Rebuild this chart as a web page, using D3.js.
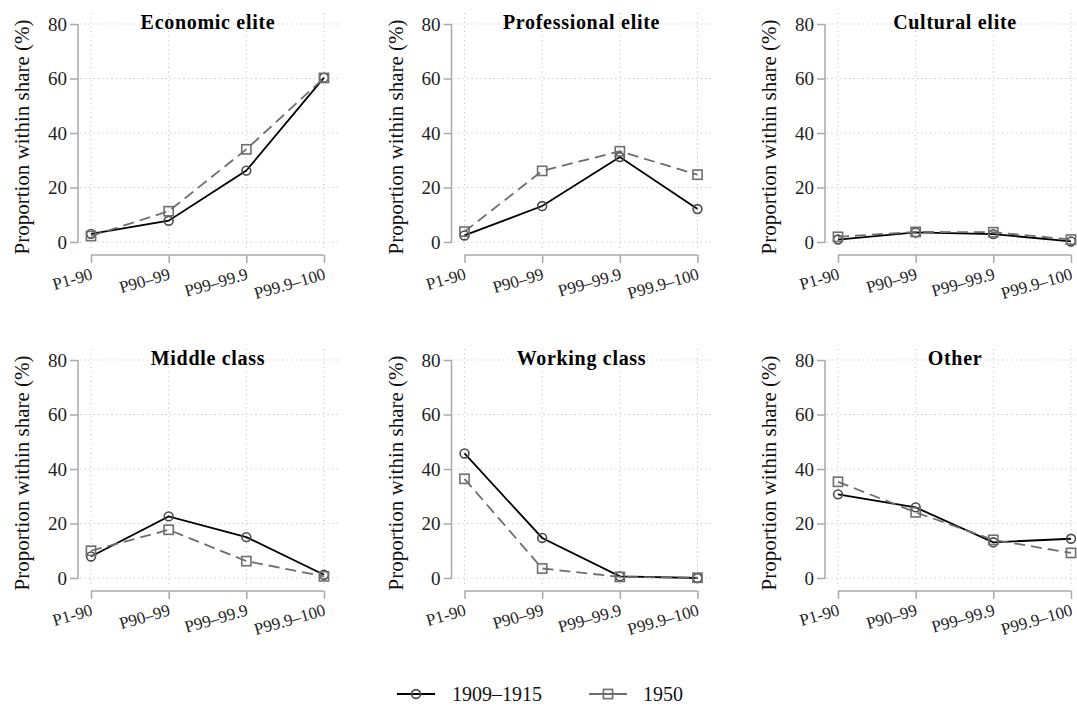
<!DOCTYPE html>
<html>
<head>
<meta charset="utf-8">
<script src="https://cdn.jsdelivr.net/npm/d3@7"></script>
<style>
  body { margin: 0; background: #fff; }
  svg { display: block; font-family: "Liberation Serif", "Times New Roman", serif; }
  svg text { font-family: "Liberation Serif", "Times New Roman", serif; }
</style>
</head>
<body>
<svg id="chart" width="1077" height="706"></svg>
<script>
const shares = ['P1-90', 'P90\u201399', 'P99\u201399.9', 'P99.9\u2013100'];
const yTicks = [0, 20, 40, 60, 80];
const panels = ['Economic elite', 'Professional elite', 'Cultural elite', 'Middle class', 'Working class', 'Other'];
const seriesNames = ['1909\u20131915', '1950'];

// values, one row per panel
const early = [
  [3.0, 7.8, 26.2, 60.3],
  [2.4, 13.2, 31.2, 12.1],
  [0.9, 3.5, 2.9, 0.2],
  [7.9, 22.6, 15.0, 1.2],
  [45.7, 14.7, 0.6, 0.0],
  [30.7, 25.9, 13.1, 14.4]
];
const late = [
  [2.2, 11.3, 34.0, 60.2],
  [3.8, 26.1, 33.3, 24.7],
  [1.9, 3.7, 3.6, 0.9],
  [10.0, 17.7, 6.2, 0.6],
  [36.4, 3.5, 0.4, 0.1],
  [35.3, 24.1, 14.0, 9.2]
];

const svg = d3.select('#chart');

const colW = 373.5, rowH = 336;
const axisX = 78, plotRight = 338, gridTop = 13;

const x = d3.scalePoint().domain(shares).range([91, 324]);
const y = d3.scaleLinear().domain([0, 80]).range([242, 24]);

const styles = [
  { line: '#000', marker: '#4a4a4a', dash: null, shape: 'circle' },
  { line: '#6e6e6e', marker: '#6e6e6e', dash: '11,6', shape: 'square' }
];

let drawMarker = (g, shape, color, cx, cy) => {
  if (shape === 'circle') {
    g.append('circle').attr('cx', cx).attr('cy', cy).attr('r', 4.4)
      .attr('fill', 'none').attr('stroke', color).attr('stroke-width', 1.6);
  } else {
    g.append('rect').attr('x', cx - 4.6).attr('y', cy - 4.6)
      .attr('width', 9.2).attr('height', 9.2)
      .attr('fill', 'none').attr('stroke', color).attr('stroke-width', 1.6);
  }
};

panels.forEach((name, p) => {
  const g = svg.append('g')
    .attr('transform', `translate(${(p % 3) * colW},${Math.floor(p / 3) * rowH})`);

  // grid
  g.selectAll('.hgrid').data(yTicks).enter().append('line')
    .attr('x1', axisX + 2).attr('x2', plotRight)
    .attr('y1', d => y(d)).attr('y2', d => y(d))
    .attr('stroke', '#bdbdbd').attr('stroke-width', 1).attr('stroke-dasharray', '1,3.5');
  g.selectAll('.vgrid').data(shares).enter().append('line')
    .attr('x1', d => x(d)).attr('x2', d => x(d))
    .attr('y1', gridTop).attr('y2', 250)
    .attr('stroke', '#bdbdbd').attr('stroke-width', 1).attr('stroke-dasharray', '1,3.5');

  // y axis
  const yAxis = g.append('g').attr('transform', `translate(${axisX},0)`)
    .call(d3.axisLeft(y).tickValues(yTicks).tickSize(8).tickPadding(3));
  yAxis.attr('font-family', null);
  yAxis.select('.domain').attr('stroke', '#a8a8a8').attr('stroke-width', 1.5)
    .attr('d', `M0,${y(80)}V${y(0) + 1}`);
  yAxis.selectAll('.tick line').attr('stroke', '#a8a8a8').attr('stroke-width', 1.5);
  yAxis.selectAll('.tick text').attr('font-size', 19).attr('fill', '#222');

  // x axis
  const xAxis = g.append('g').attr('transform', 'translate(0,255)')
    .call(d3.axisBottom(x).tickSize(8).tickPadding(3));
  xAxis.attr('font-family', null);
  xAxis.select('.domain').attr('stroke', '#a8a8a8').attr('stroke-width', 1.5)
    .attr('d', `M${x(shares[0])},0H${x(shares[3])}`);
  xAxis.selectAll('.tick line').attr('stroke', '#a8a8a8').attr('stroke-width', 1.5);
  xAxis.selectAll('.tick text').attr('font-size', 17).attr('fill', '#222')
    .attr('text-anchor', 'end').attr('dy', null).attr('y', 0)
    .attr('transform', 'translate(2,24) rotate(-16)');

  // y label
  g.append('text')
    .attr('transform', 'translate(29,137) rotate(-90)')
    .attr('text-anchor', 'middle').attr('font-size', 21).attr('fill', '#111')
    .text('Proportion within share (%)');

  // title
  g.append('text')
    .attr('x', (axisX + plotRight) / 2).attr('y', 29)
    .attr('text-anchor', 'middle').attr('font-size', 20).attr('font-weight', 'bold')
    .attr('letter-spacing', 0.7)
    .text(name);

  // series
  [early[p], late[p]].forEach((vals, s) => {
    const st = styles[s];
    const line = d3.line().x((d, i) => x(shares[i])).y(d => y(d));
    g.append('path').datum(vals).attr('d', line)
      .attr('fill', 'none').attr('stroke', st.line).attr('stroke-width', 1.8)
      .attr('stroke-dasharray', st.dash);
    vals.forEach((v, i) => drawMarker(g, st.shape, st.marker, x(shares[i]), y(v)));
  });
});

// legend
const legend = svg.append('g');
const legendItems = [
  { x0: 397, tx: 452 },
  { x0: 589, tx: 643 }
];
seriesNames.forEach((nm, s) => {
  const st = styles[s];
  const it = legendItems[s];
  legend.append('line').attr('x1', it.x0).attr('x2', it.x0 + 38)
    .attr('y1', 694).attr('y2', 694)
    .attr('stroke', st.line).attr('stroke-width', 1.8);
  drawMarker(legend, st.shape, st.marker, it.x0 + 19, 694);
  legend.append('text').attr('x', it.tx).attr('y', 701)
    .attr('font-size', 20).attr('fill', '#111').text(nm);
});
</script>
</body>
</html>
